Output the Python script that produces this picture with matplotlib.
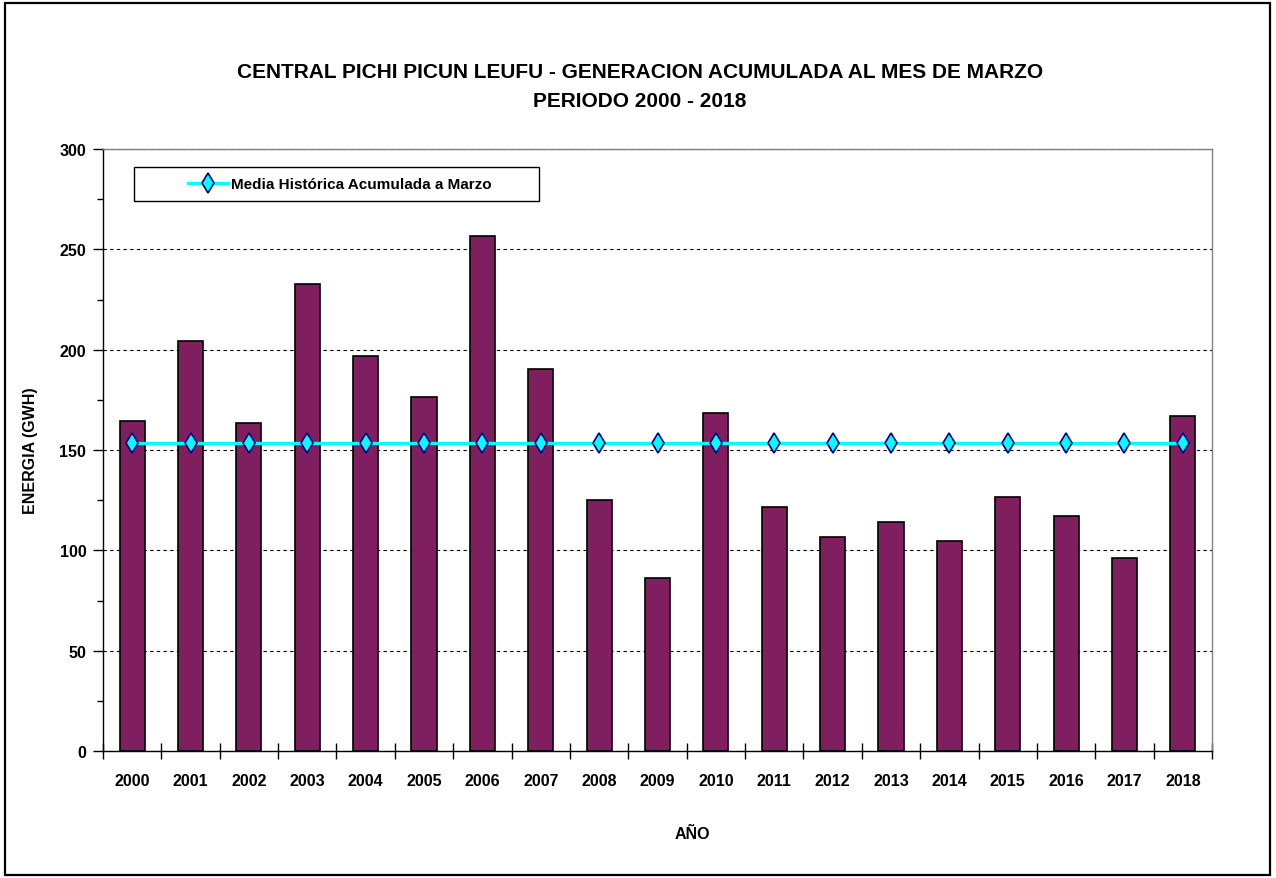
import numpy as np
import matplotlib
matplotlib.use("Agg")
import matplotlib.pyplot as plt
from matplotlib.patches import Rectangle
from matplotlib.ticker import MultipleLocator, FixedLocator, NullFormatter

plt.rcParams['font.family'] = ['Liberation Sans', 'DejaVu Sans']
plt.rcParams['font.weight'] = 'bold'

years = ['2000', '2001', '2002', '2003', '2004', '2005', '2006', '2007', '2008', '2009',
         '2010', '2011', '2012', '2013', '2014', '2015', '2016', '2017', '2018']
energia = [164.6, 204.2, 163.3, 232.7, 196.8, 176.2, 256.8, 190.2, 125.2, 86.4,
           168.4, 121.6, 106.8, 114.1, 104.8, 126.7, 117.3, 96.0, 166.8]
media_historica = [153.6, 153.6, 153.6, 153.6, 153.6, 153.6, 153.6, 153.6, 153.6, 153.6,
                   153.6, 153.6, 153.6, 153.6, 153.6, 153.6, 153.6, 153.6, 153.6]
yticks = [0, 50, 100, 150, 200, 250, 300]

title1 = "CENTRAL PICHI PICUN LEUFU - GENERACION ACUMULADA AL MES DE MARZO"
title2 = "PERIODO 2000 - 2018"
xlabel = "AÑO"
ylabel = "ENERGIA (GWH)"
legend_label = "Media Histórica Acumulada a Marzo"

W, H = 1276, 879
fig = plt.figure(figsize=(W / 100, H / 100), dpi=100)
fig.patch.set_facecolor('white')

# outer frame
fig.patches.append(Rectangle((5 / W, 3 / H), (1270 - 5) / W, (875 - 3) / H,
                             transform=fig.transFigure, fill=False,
                             edgecolor='black', linewidth=1.6))

ax = fig.add_axes([103 / W, 1 - 752 / H, (1212 - 103) / W, (752 - 150) / H])
x = np.arange(len(years))

ax.bar(x, energia, width=0.43, color='#7F1F5F', edgecolor='black', linewidth=1.2, zorder=2)
ln, = ax.plot(x, media_historica, color='#00FFFF', lw=2.4, marker='d', ms=10,
              mfc='#00FFFF', mec='#000080', mew=1.2, zorder=3, label=legend_label)

ax.set_xlim(-0.5, len(years) - 0.5)
ax.set_ylim(0, 300)
ax.set_yticks(yticks)
ax.yaxis.set_minor_locator(MultipleLocator(25))
ax.set_xticks(x)
ax.set_xticklabels(years)
ax.xaxis.set_minor_locator(FixedLocator(np.arange(-0.5, len(years), 1.0)))
ax.xaxis.set_minor_formatter(NullFormatter())

ax.tick_params(axis='x', which='major', length=0, pad=16, labelsize=11.5)
ax.tick_params(axis='x', which='minor', direction='inout', length=11, width=1, color='black')
ax.tick_params(axis='y', which='major', direction='out', length=7, width=1, pad=5, labelsize=11.5)
ax.tick_params(axis='y', which='minor', direction='out', length=4, width=1)

ax.grid(axis='y', which='major', linestyle=(0, (3, 3)), color='black', linewidth=0.8, zorder=0)
ax.set_axisbelow(True)

for s in ['top', 'right']:
    ax.spines[s].set_color('#808080')
    ax.spines[s].set_linewidth(1.0)
for s in ['left', 'bottom']:
    ax.spines[s].set_color('black')
    ax.spines[s].set_linewidth(1.0)

# legend box
fig.patches.append(Rectangle((134 / W, 1 - 202 / H), (539 - 134) / W, (202 - 168) / H,
                             transform=fig.transFigure, fill=True, facecolor='white',
                             edgecolor='black', linewidth=1.0, zorder=5))
leg = fig.legend(handles=[ln], loc='center', bbox_to_anchor=(340 / W, 1 - 185 / H),
                 frameon=False, fontsize=11, numpoints=1, handlelength=2.6,
                 handletextpad=0.2, borderpad=0.2)
leg.set_zorder(6)

fig.text(640 / W, 1 - 73 / H, title1, ha='center', va='center', fontsize=15, fontweight='bold')
fig.text(640 / W, 1 - 102 / H, title2, ha='center', va='center', fontsize=15, fontweight='bold')
fig.text(692 / W, 1 - 835 / H, xlabel, ha='center', va='center', fontsize=11.5, fontweight='bold')
fig.text(30 / W, 1 - 451 / H, ylabel, ha='center', va='center', rotation=90,
         fontsize=11.5, fontweight='bold')

fig.savefig('out.png', dpi=100)
